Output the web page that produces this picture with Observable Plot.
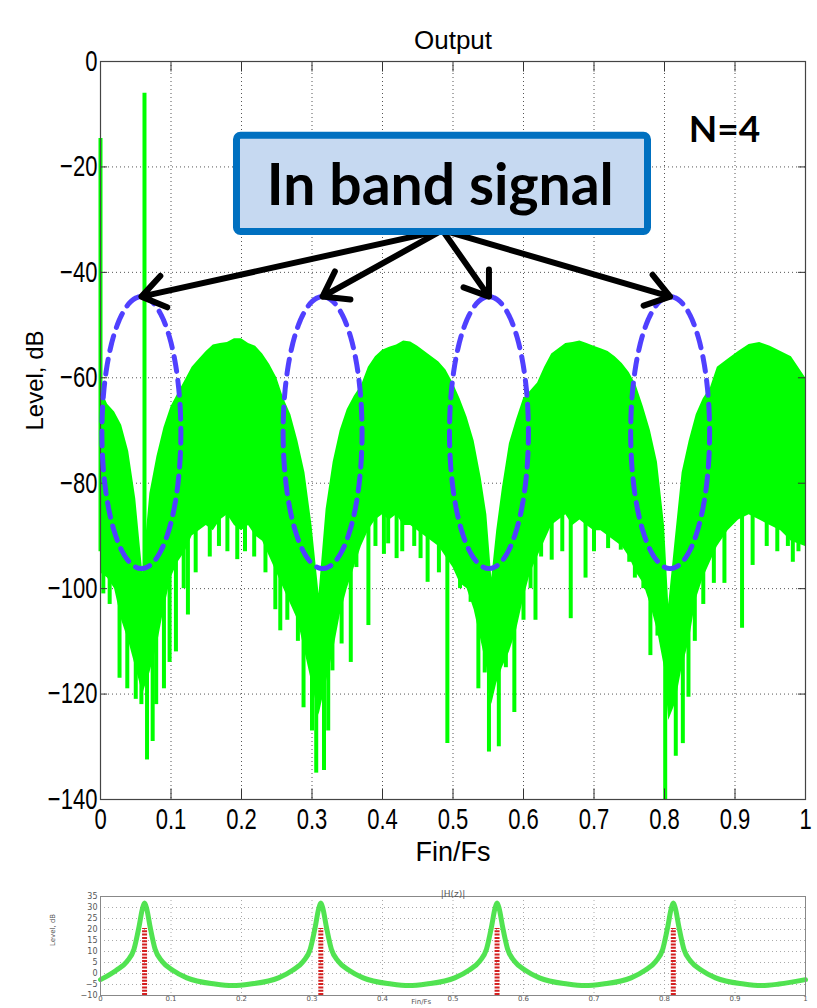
<!DOCTYPE html>
<html><head><meta charset="utf-8">
<script src="https://cdn.jsdelivr.net/npm/d3@7"></script>
<script src="https://cdn.jsdelivr.net/npm/@observablehq/plot@0.6"></script>
<style>
html,body{margin:0;padding:0;background:#fff;width:817px;height:1008px;overflow:hidden}
#main{position:absolute;left:0;top:0}
#sub{position:absolute;left:0;top:880px}
svg{background:#fff}
</style></head><body><div id="main"></div><div id="sub"></div>
<script>
// ---------- data: main "Output" spectrum ----------
const xTicks = [0, 0.1, 0.2, 0.3, 0.4, 0.5, 0.6, 0.7, 0.8, 0.9, 1];
const xTickLabels = ["0", "0.1", "0.2", "0.3", "0.4", "0.5", "0.6", "0.7", "0.8", "0.9", "1"];
const yTicks = [0, -20, -40, -60, -80, -100, -120, -140];

const freq = [0, 0.01, 0.02, 0.03, 0.04, 0.05, 0.06, 0.07, 0.08, 0.09, 0.10, 0.11, 0.12, 0.13, 0.14, 0.15, 0.16, 0.17, 0.18, 0.19, 0.20, 0.21, 0.22, 0.23, 0.24, 0.25, 0.26, 0.27, 0.28, 0.29, 0.30, 0.31, 0.32, 0.33, 0.34, 0.35, 0.36, 0.37, 0.38, 0.39, 0.40, 0.41, 0.42, 0.43, 0.44, 0.45, 0.46, 0.47, 0.48, 0.49, 0.50, 0.51, 0.52, 0.53, 0.54, 0.548, 0.555, 0.562, 0.57, 0.58, 0.59, 0.60, 0.61, 0.62, 0.63, 0.64, 0.65, 0.66, 0.67, 0.68, 0.69, 0.70, 0.71, 0.72, 0.73, 0.74, 0.75, 0.76, 0.77, 0.78, 0.79, 0.80, 0.806, 0.815, 0.825, 0.835, 0.845, 0.855, 0.865, 0.875, 0.89, 0.905, 0.92, 0.935, 0.95, 0.965, 0.98, 1.0];
const topLevel = [-62, -65, -66.5, -69, -74, -83, -97, -82, -75, -69.5, -65.5, -63, -60.5, -58, -56.5, -55, -53.8, -53.5, -53.3, -52.6, -52.6, -53.5, -54, -55.5, -57.5, -60, -64, -67, -72, -78, -88, -101, -85, -76, -70, -66, -63.5, -61.5, -58, -56, -54.8, -54.2, -53.8, -53, -53.2, -54, -55, -56, -57, -58.5, -61, -64, -67.5, -72, -79, -86, -98, -89, -81, -72.5, -68, -64, -62.5, -61, -58, -55.5, -54.5, -53.5, -53.3, -53, -53.5, -54, -54.5, -55, -56, -57.3, -59, -61.5, -65.5, -70, -76, -88, -103, -91, -78, -72, -67, -64, -62, -58, -56.5, -55, -53.7, -53.3, -54, -55, -56, -60];
const floorLevel = [-97, -98, -100, -106, -110, -115, -120, -116, -111, -104, -98, -95, -93, -90, -89, -88, -89, -87, -86, -88, -89, -88, -90, -91, -94, -97, -100, -103, -106, -112, -118, -124, -118, -112, -105, -100, -96, -92, -89, -87, -86, -87, -86, -88, -88, -89, -90, -91, -92, -94, -96, -99, -100, -104, -110, -115, -122, -118, -115, -112, -108, -102, -97, -94, -91, -88, -87, -86, -88, -87, -88, -89, -89, -90, -91, -92, -94, -97, -99, -103, -108, -115, -125, -122, -115, -110, -102, -98, -95, -92, -89, -87, -86, -87, -88, -89, -91, -92];

const spikeFreq = [0.004, 0.013, 0.027, 0.038, 0.05, 0.058, 0.066, 0.074, 0.079, 0.09, 0.098, 0.107, 0.118, 0.124, 0.135, 0.155, 0.168, 0.18, 0.194, 0.205, 0.218, 0.234, 0.248, 0.255,
  0.265, 0.28, 0.288, 0.3, 0.306, 0.317, 0.323, 0.329, 0.342, 0.355, 0.363, 0.38, 0.39, 0.402, 0.408, 0.42, 0.428, 0.445, 0.454, 0.464, 0.48, 0.492,
  0.51, 0.525, 0.536, 0.545, 0.551, 0.565, 0.575, 0.587, 0.6, 0.61, 0.617, 0.625, 0.64, 0.655, 0.667, 0.688, 0.7, 0.72, 0.738, 0.75, 0.758,
  0.77, 0.78, 0.79, 0.801, 0.816, 0.826, 0.834, 0.843, 0.855, 0.87, 0.885, 0.91, 0.925, 0.945, 0.96, 0.975, 0.982, 0.99];
const spikeLevel = [-101, -103, -117, -119, -121, -122, -132.5, -129, -122, -119, -114, -112, -100, -105, -97, -94, -92, -93, -94.5, -93, -94, -97, -104, -108,
  -106, -110, -122.6, -127, -135, -134.5, -127, -115.6, -110.5, -114, -96, -107, -92, -93.5, -91.5, -94.3, -93, -92, -94.3, -98.8, -97, -129.4,
  -100, -102.6, -119, -116, -131, -130, -115, -123.5, -106, -100, -106, -94, -94.6, -93, -105.7, -98, -93, -92.4, -92.7, -95, -98,
  -100, -112.7, -109, -140, -131.8, -129.4, -120.6, -110, -103, -99, -99, -107.5, -95.6, -92, -93, -92, -95, -93];

const toneFreq = [0.0, 0.0624];
const toneLevel = [-14.6, -6];

// circled in-band regions (annotation)
const circledFreq = [0.058, 0.315, 0.551, 0.808];

// ---------- data: |H(z)| inset ----------
const hTicksY = [-10, -5, 0, 5, 10, 15, 20, 25, 30, 35];
const hFreq = [0, 0.0225, 0.0375, 0.0475, 0.0545, 0.0595, 0.0625, 0.0655, 0.0705, 0.0775, 0.0875, 0.1025, 0.1225, 0.1625, 0.1875,
  0.2125, 0.2525, 0.2725, 0.2875, 0.2975, 0.3045, 0.3095, 0.3125, 0.3155, 0.3205, 0.3275, 0.3375, 0.3525, 0.3725, 0.4125, 0.4375,
  0.4625, 0.5025, 0.5225, 0.5375, 0.5475, 0.5545, 0.5595, 0.5625, 0.5655, 0.5705, 0.5775, 0.5875, 0.6025, 0.6225, 0.6625, 0.6875,
  0.7125, 0.7525, 0.7725, 0.7875, 0.7975, 0.8045, 0.8095, 0.8125, 0.8155, 0.8205, 0.8275, 0.8375, 0.8525, 0.8725, 0.9125, 0.9375,
  0.9625, 1.0];
const hLevel = [-2.8, 1.5, 5.5, 11, 21, 29.5, 32, 29.5, 21, 11, 5.5, 1.5, -2, -4.8, -5.5,
  -4.8, -2, 1.5, 5.5, 11, 21, 29.5, 32, 29.5, 21, 11, 5.5, 1.5, -2, -4.8, -5.5,
  -4.8, -2, 1.5, 5.5, 11, 21, 29.5, 32, 29.5, 21, 11, 5.5, 1.5, -2, -4.8, -5.5,
  -4.8, -2, 1.5, 5.5, 11, 21, 29.5, 32, 29.5, 21, 11, 5.5, 1.5, -2, -4.8, -5.5,
  -4.8, -2.8];
const stemFreq = [0.0625, 0.3125, 0.5625, 0.8125];
const stemLevel = [20.5, 20.5, 20.5, 20.5];

// ---------- build ----------
const spectrum = freq.map((f, i) => ({f, top: topLevel[i], floor: floorLevel[i]}));
function floorAt(f) {
  const i = d3.bisectLeft(freq, f);
  if (i <= 0) return floorLevel[0];
  if (i >= freq.length) return floorLevel[freq.length - 1];
  const t = (f - freq[i - 1]) / (freq[i] - freq[i - 1]);
  return floorLevel[i - 1] + t * (floorLevel[i] - floorLevel[i - 1]);
}
const spikes = spikeFreq.map((f, i) => ({f, v: spikeLevel[i], base: floorAt(f) + 4}));
const tones = toneFreq.map((f, i) => ({f, v: toneLevel[i], base: floorAt(f) + 4}));

const ellRx = 0.056, ellTop = -44.6, ellBottom = -96.2;
const ellMid = (ellTop + ellBottom) / 2, ellRy = (ellTop - ellBottom) / 2;
const ellipsePts = circledFreq.flatMap((c, k) => d3.range(0, 97).map(j => {
  const a = j / 96 * 2 * Math.PI;
  return {k, x: c + ellRx * Math.sin(a), y: ellMid + ellRy * Math.cos(a)};
}));
const arrowFrom = {x: 0.485, y: -32};
const box = {x1: 0.1936, x2: 0.7766, y1: -14.1, y2: -32.35};

const condensed = "'Liberation Sans', Arial, sans-serif";
const bold = "Lato, 'Open Sans', sans-serif";
const fmtX = (d) => xTickLabels[xTicks.indexOf(d)];

const main = Plot.plot({
  width: 817, height: 880,
  marginLeft: 100, marginRight: 12, marginTop: 61, marginBottom: 81,
  x: {domain: [0, 1]},
  y: {domain: [-140, 0]},
  style: {background: "#fff"},
  marks: [
    Plot.ruleX(xTicks.slice(1, -1), {stroke: "#555", strokeWidth: 1, strokeDasharray: "1,3"}),
    Plot.ruleY(yTicks.slice(1, -1), {stroke: "#555", strokeWidth: 1, strokeDasharray: "1,3"}),
    Plot.areaY(spectrum, {x: "f", y1: "floor", y2: "top", fill: "#00ff00", curve: "linear"}),
    Plot.ruleX(spikes, {x: "f", y1: "base", y2: "v", stroke: "#00ff00", strokeWidth: 4}),
    Plot.ruleX(tones, {x: "f", y1: "base", y2: "v", stroke: "#00ff00", strokeWidth: 4}),
    Plot.ruleX(xTicks, {y1: 0, y2: -2, stroke: "#333"}),
    Plot.ruleX(xTicks, {y1: -140, y2: -138, stroke: "#333"}),
    Plot.ruleY(yTicks, {x1: 0, x2: 0.01, stroke: "#333"}),
    Plot.ruleY(yTicks, {x1: 0.99, x2: 1, stroke: "#333"}),
    Plot.frame({stroke: "#444", strokeWidth: 1.2}),
    Plot.line(ellipsePts, {x: "x", y: "y", z: "k", stroke: "#5040ff", strokeWidth: 5, strokeDasharray: "15,9"}),
    Plot.arrow(circledFreq, {x1: () => arrowFrom.x, y1: () => arrowFrom.y, x2: d => d, y2: () => ellTop,
      stroke: "#000", strokeWidth: 6, headLength: 7, headAngle: 70}),
    Plot.rect([box], {x1: "x1", x2: "x2", y1: "y1", y2: "y2", fill: "#c6d9f1", stroke: "#0070c0", strokeWidth: 7, rx: 4}),
    Plot.text(["In band signal"], {x: 0.482, y: -23.7, fontSize: 57, fontWeight: "bold", fontFamily: bold, fill: "#000", ariaLabel: "band-label"}),
    Plot.text(["N=4"], {x: 0.885, y: -13.1, fontSize: 37, fontWeight: "bold", fontFamily: bold, fill: "#000", ariaLabel: "n-label"}),
    Plot.axisX({ticks: xTicks, tickFormat: fmtX, tickSize: 0, tickPadding: 9, fontSize: 29, fontFamily: condensed, label: null, color: "#000"}),
    Plot.axisY({ticks: yTicks, tickSize: 0, tickPadding: 3, fontSize: 29, fontFamily: condensed, label: null, color: "#000"}),
    Plot.text(["Output"], {frameAnchor: "top", dy: -31, fontSize: 26, fontFamily: condensed, fill: "#000", ariaLabel: "cond-title"}),
    Plot.text(["Fin/Fs"], {frameAnchor: "bottom", dy: 61, fontSize: 27, fontFamily: condensed, fill: "#000", ariaLabel: "cond-xlabel"}),
    Plot.text(["Level, dB"], {frameAnchor: "left", dx: -65, rotate: -90, fontSize: 24, fontFamily: "'Liberation Sans', Arial, sans-serif", fill: "#000", ariaLabel: "ylabel"})
  ]
});
document.getElementById("main").appendChild(main);

const hData = hFreq.map((f, i) => ({f, v: hLevel[i]}));
const stems = stemFreq.map((f, i) => ({f, v: stemLevel[i]}));
const sub = Plot.plot({
  width: 817, height: 128,
  marginLeft: 100, marginRight: 12, marginTop: 16, marginBottom: 13,
  x: {domain: [0, 1]},
  y: {domain: [-10, 35]},
  style: {background: "#fff"},
  marks: [
    Plot.ruleX(xTicks.slice(1, -1), {stroke: "#aaa", strokeDasharray: "1,3"}),
    Plot.ruleY(hTicksY.slice(1, -1), {stroke: "#aaa", strokeDasharray: "1,3"}),
    Plot.ruleX(stems, {x: "f", y1: -10, y2: "v", stroke: "#d42020", strokeWidth: 5, strokeDasharray: "2,1.3"}),
    Plot.line(hData, {x: "f", y: "v", stroke: "#3ee03e", strokeWidth: 5, strokeOpacity: 0.9, curve: "monotone-x"}),
    Plot.frame({stroke: "#888"}),
    Plot.axisX({ticks: xTicks, tickFormat: fmtX, tickSize: 0, tickPadding: 1, fontSize: 7, fontFamily: "'DejaVu Sans', sans-serif", label: null, color: "#555"}),
    Plot.axisY({ticks: hTicksY, tickSize: 0, tickPadding: 3, fontSize: 8, fontFamily: "'DejaVu Sans', sans-serif", label: null, color: "#555"}),
    Plot.text(["|H(z)|"], {frameAnchor: "top", dy: -6, fontSize: 9, fontFamily: "'DejaVu Sans', sans-serif", fill: "#555"}),
    Plot.text(["Fin/Fs"], {x: 0.455, frameAnchor: "bottom", dy: 8, fontSize: 7, fontFamily: "'DejaVu Sans', sans-serif", fill: "#555"}),
    Plot.text(["Level, dB"], {frameAnchor: "left", dx: -48, rotate: -90, fontSize: 7, fontFamily: "'DejaVu Sans', sans-serif", fill: "#555"})
  ]
});
document.getElementById("sub").appendChild(sub);

// ---------- typography post-processing ----------
function squeeze(node, s) {
  const t = node.getAttribute("transform");
  if (t) node.setAttribute("transform", t + ` scale(${s},1)`);
  else {
    const x = +node.getAttribute("x") || 0;
    node.setAttribute("transform", `translate(${x},0) scale(${s},1) translate(${-x},0)`);
  }
}
const ms = d3.select(main);
ms.selectAll('g[aria-label="x-axis tick label"] text, g[aria-label="y-axis tick label"] text, g[aria-label="cond-title"] text, g[aria-label="cond-xlabel"] text')
  .each(function() { squeeze(this, 0.76); });
ms.selectAll('g[aria-label="band-label"] text')
  .attr("textLength", 361).attr("lengthAdjust", "spacingAndGlyphs");
ms.selectAll('g[aria-label="band-label"] text, g[aria-label="n-label"] text')
  .style("filter", "drop-shadow(3px 3px 1.5px rgba(0,0,0,0.45))");
ms.selectAll('g[aria-label="ylabel"] text').style("letter-spacing", "3.5px");
</script></body></html>
